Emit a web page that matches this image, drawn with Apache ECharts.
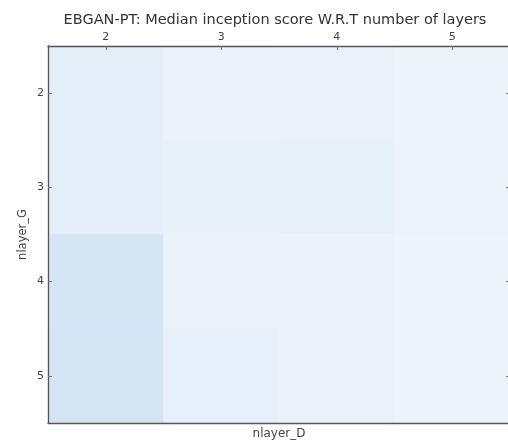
<!DOCTYPE html>
<html>
<head>
<meta charset="utf-8">
<style>
  html, body { margin: 0; padding: 0; background: #ffffff; }
  #chart { width: 508px; height: 442px; }
</style>
<script src="https://cdn.jsdelivr.net/npm/echarts@6/dist/echarts.min.js"></script>
</head>
<body>
<div id="chart"></div>
<script>
// Discriminator depth (columns) and generator depth (rows)
const nlayerD = ['2', '3', '4', '5'];
const nlayerG = ['2', '3', '4', '5'];

// Median inception score per (nlayer_G, nlayer_D) cell, one row per generator depth
const scoreG2 = [1.0, 0.65, 0.7, 0.55];
const scoreG3 = [1.0, 0.8, 0.8, 0.6];
const scoreG4 = [1.7, 0.7, 0.65, 0.5];
const scoreG5 = [1.8, 0.85, 0.7, 0.6];

// Colour scale bounds
const scoreMin = 0;
const scoreMax = 10;

const rows = [scoreG2, scoreG3, scoreG4, scoreG5];
const cells = [];
rows.forEach((row, gi) => {
  row.forEach((v, di) => cells.push([di, gi, v]));
});

// Sequential blue palette
const blues = ['#f7fbff', '#deebf7', '#c6dbef', '#9ecae1', '#6baed6',
               '#4292c6', '#2171b5', '#08519c', '#08306b'];

const font = 'DejaVu Sans';
const spine = { show: true, lineStyle: { color: '#555', width: 1.3 } };
const ticks = { show: true, inside: true, length: 4, alignWithLabel: true,
                lineStyle: { color: '#777', width: 1 } };

const chart = echarts.init(document.getElementById('chart'));
chart.setOption({
  backgroundColor: '#ffffff',
  animation: false,
  title: {
    text: 'EBGAN-PT: Median inception score W.R.T number of layers',
    left: 270, top: 8, textAlign: 'center',
    textStyle: { fontFamily: font, fontSize: 14.5, fontWeight: 'normal', color: '#333' }
  },
  grid: { left: 48, top: 46, width: 462, height: 377, outerBoundsMode: 'none', containLabel: false },
  visualMap: {
    show: false, min: scoreMin, max: scoreMax, dimension: 2,
    inRange: { color: blues }
  },
  xAxis: [
    {
      type: 'category', data: nlayerD, position: 'top', z: 5,
      axisLine: spine, axisTick: ticks, splitLine: { show: false },
      axisLabel: { fontFamily: font, fontSize: 11, color: '#444', margin: 3 }
    },
    {
      type: 'category', data: nlayerD, position: 'bottom', z: 5,
      name: 'nlayer_D', nameLocation: 'middle', nameGap: 5,
      nameTextStyle: { fontFamily: font, fontSize: 12, color: '#444' },
      axisLine: spine, axisTick: { show: false }, axisLabel: { show: false }
    }
  ],
  yAxis: [
    {
      type: 'category', data: nlayerG, inverse: true, position: 'left', z: 5,
      name: 'nlayer_G', nameLocation: 'middle', nameGap: 19, nameMoveOverlap: false,
      nameTextStyle: { fontFamily: font, fontSize: 11.5, color: '#444' },
      axisLine: spine, axisTick: ticks, splitLine: { show: false },
      axisLabel: { fontFamily: font, fontSize: 11, color: '#444', margin: 4 }
    },
    {
      type: 'category', data: nlayerG, inverse: true, position: 'right', z: 5,
      axisLine: spine, axisTick: ticks, axisLabel: { show: false }
    }
  ],
  series: [{
    type: 'heatmap',
    xAxisIndex: 0, yAxisIndex: 0,
    data: cells,
    itemStyle: { borderWidth: 0 },
    label: { show: false }
  }]
});
</script>
</body>
</html>
